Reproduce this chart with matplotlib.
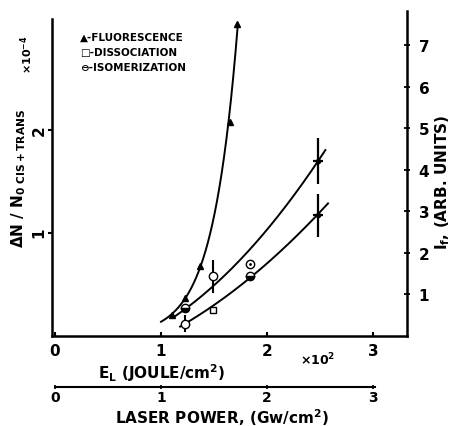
import matplotlib
matplotlib.use("Agg")
import matplotlib.pyplot as plt
import numpy as np

plt.rcParams["font.family"] = "DejaVu Sans"
plt.rcParams["font.weight"] = "bold"

# fluorescence (right axis, arb. units)
fl_x = [1.10, 1.226, 1.368, 1.65, 1.717]
fl_y = [0.51, 0.92, 1.69, 5.16, 7.52]

# isomerization / dissociation points (left axis, x1e-4)
up_fill_x, up_fill_y = [1.226], [0.27]
up_circ_x, up_circ_y, up_circ_err = [1.49], [0.58], [0.16]
lo_circ_x, lo_circ_y, lo_circ_err = [1.226], [0.12], [0.08]
lo_sq_x, lo_sq_y = [1.49], [0.25]
lo_fill_x, lo_fill_y = [1.84], [0.58]
extra_circ_x, extra_circ_y = [1.84], [0.70]
cross_x = [2.48, 2.48]
cross_y = [1.70, 1.17]
cross_yerr = [0.22, 0.21]

# points
up_curve_x = [1.13, 1.226, 1.49, 1.745, 1.84, 2.48, 2.55]
up_curve_y = [0.19, 0.27, 0.46, 0.75, 0.845, 1.70, 1.80]
lo_curve_x = [1.18, 1.226, 1.49, 1.84, 2.03, 2.48, 2.575]
lo_curve_y = [0.10, 0.13, 0.25, 0.58, 0.75, 1.17, 1.29]

legend_rows = ["\u25b2-FLUORESCENCE", "\u25a1-DISSOCIATION", "\u2296-ISOMERIZATION"]

W, H = 460, 427
fig = plt.figure(figsize=(4.6, 4.27), dpi=100)
L, R, B, T = 52, 407, 337, 12
ax = fig.add_axes([L / W, 1 - B / H, (R - L) / W, (B - T) / H])
ax2 = ax.twinx()

ax.set_xlim(-0.028, 3.32)
ax.set_ylim(0, 3.155)
ax2.set_ylim(0, 7.83)

for a in (ax, ax2):
    a.spines["top"].set_visible(False)
    a.patch.set_visible(False)
ax.spines["right"].set_visible(False)
ax2.spines["left"].set_visible(False)
ax2.spines["bottom"].set_visible(False)
ax.spines["left"].set_bounds(0, 3.08)
for s in ("left", "bottom"):
    ax.spines[s].set_linewidth(1.8)
ax2.spines["right"].set_linewidth(1.8)

ax.set_xticks([0, 1, 2, 3])
ax.set_xticklabels(["0", "1", "2", "3"])
ax.tick_params(axis="x", direction="in", length=3, width=1.5, labelsize=11, pad=5)
ax.set_yticks([1, 2])
ax.tick_params(axis="y", direction="out", length=3, width=1.5, labelsize=11,
               labelrotation=90, pad=1)
ax2.set_yticks(range(1, 8))
ax2.tick_params(axis="y", direction="inout", length=5, width=1.3, labelsize=11, pad=6)

# fluorescence curve: exponential fit to triangles
k, c = np.polyfit(fl_x, np.log(fl_y), 1)
xf = np.linspace(1.0, 1.725, 200)
ax2.plot(xf, np.exp(c + k * xf), color="black", lw=1.4)
ax2.plot(fl_x, fl_y, "^", color="black", ms=5)

# upper and lower curves
for cx, cy in ((up_curve_x, up_curve_y), (lo_curve_x, lo_curve_y)):
    p = np.polyfit(cx, cy, 2)
    xs = np.linspace(cx[0], cx[-1], 200)
    ax.plot(xs, np.polyval(p, xs), color="black", lw=1.4)

ax.plot(up_fill_x, up_fill_y, "o", ms=6, mfc="black", mec="black", fillstyle="bottom",
        markerfacecoloralt="white")
ax.plot(lo_fill_x, lo_fill_y, "o", ms=6, mfc="black", mec="black", fillstyle="bottom",
        markerfacecoloralt="white")
ax.errorbar(up_circ_x, up_circ_y, yerr=up_circ_err, fmt="o", ms=6, mfc="white",
            mec="black", ecolor="black", elinewidth=1.5)
ax.errorbar(lo_circ_x, lo_circ_y, yerr=lo_circ_err, fmt="o", ms=6, mfc="white",
            mec="black", ecolor="black", elinewidth=1.5)
ax.plot(extra_circ_x, extra_circ_y, "o", ms=6, mfc="white", mec="black")
ax.plot(up_circ_x + lo_circ_x + extra_circ_x, up_circ_y + lo_circ_y + extra_circ_y,
        ".", color="black", ms=2)
ax.plot(lo_sq_x, lo_sq_y, "s", ms=5, mfc="white", mec="black")
ax.errorbar(cross_x, cross_y, yerr=cross_yerr, xerr=0.05, fmt="o", ms=3,
            color="black", elinewidth=1.6)

# legend
for i, row in enumerate(legend_rows):
    fig.text(80 / W, 1 - (38 + 15 * i) / H, row, fontsize=7.5, weight="bold",
             va="center", ha="left")

# axis labels
fig.text(162 / W, 1 - 373 / H, r"E$_\mathbf{L}$ (JOULE/cm$^\mathbf{2}$)", fontsize=11,
         ha="center", va="center")
fig.text(318 / W, 1 - 360 / H, r"$\times$10$^\mathbf{2}$", fontsize=9,
         ha="center", va="center")
fig.text(19 / W, 1 - 178 / H, r"$\mathbf{\Delta N\ /\ N_{0\ CIS+TRANS}}$", fontsize=11,
         rotation=90, ha="center", va="center")
fig.text(27 / W, 1 - 55 / H, r"$\times$10$^\mathbf{-4}$", fontsize=8,
         rotation=90, ha="center", va="center")
fig.text(443 / W, 1 - 182 / H, r"I$_\mathbf{f}$, (ARB. UNITS)", fontsize=11,
         rotation=90, ha="center", va="center")

# second x axis: laser power
ax3 = fig.add_axes([L / W, 1 - 388 / H, (R - L) / W, 0.001])
ax3.set_xlim(ax.get_xlim())
for s in ("left", "right", "top"):
    ax3.spines[s].set_visible(False)
ax3.spines["bottom"].set_bounds(0, 3.02)
ax3.spines["bottom"].set_linewidth(1.5)
ax3.set_yticks([])
ax3.set_xticks([0, 1, 2, 3])
ax3.set_xticklabels(["0", "1", "2", "3"])
ax3.tick_params(axis="x", direction="inout", length=3, width=1.2, labelsize=10, pad=1)
ax3.patch.set_visible(False)
fig.text(222 / W, 1 - 418 / H, r"LASER POWER, (Gw/cm$^\mathbf{2}$)", fontsize=11,
         ha="center", va="center")

fig.savefig("out.png", dpi=100)
